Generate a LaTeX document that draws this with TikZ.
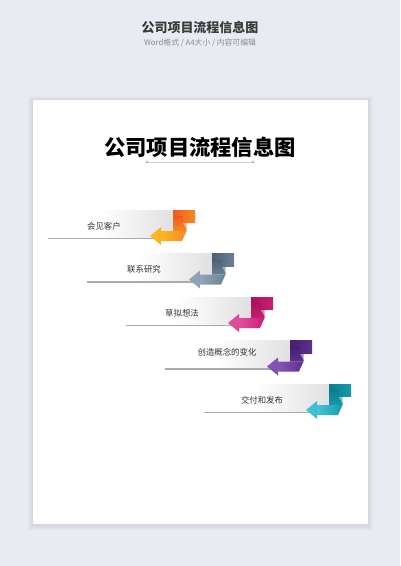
\documentclass[tikz,border=0pt]{standalone}
\usepackage{fontspec}
\newfontfamily\cjk{Noto Sans CJK SC}
\usetikzlibrary{calc}
\definecolor{bg}{HTML}{E8EBF2}
\definecolor{hdr}{HTML}{3A3A3A}
\definecolor{sub}{HTML}{8A8D93}
% row colours: dark / mid / light
\definecolor{oA}{HTML}{EE5A1E}\definecolor{oB}{HTML}{F68B1F}\definecolor{oC}{HTML}{FBB826}
\definecolor{sA}{HTML}{4D6176}\definecolor{sB}{HTML}{6B8095}\definecolor{sC}{HTML}{93A6B8}
\definecolor{mA}{HTML}{A9125B}\definecolor{mB}{HTML}{C81E75}\definecolor{mC}{HTML}{E24E9E}
\definecolor{pA}{HTML}{46206F}\definecolor{pB}{HTML}{5E2E8C}\definecolor{pC}{HTML}{8456B6}
\definecolor{tA}{HTML}{0E7C8E}\definecolor{tB}{HTML}{1699AD}\definecolor{tC}{HTML}{45C3D8}
\pgfdeclarehorizontalshading{boxsh}{100bp}{color(0bp)=(white); color(25bp)=(white); color(45bp)=(white); color(75bp)=(black!13); color(100bp)=(black!13)}
\tikzset{
  hdrtext/.style={font=\cjk\bfseries\fontsize{13}{15}\selectfont, text=hdr, inner sep=0},
  subtext/.style={font=\cjk\fontsize{7.8}{9}\selectfont, text=sub, inner sep=0},
  titletext/.style={font=\cjk\bfseries\fontsize{21.3}{24}\selectfont, text=black, inner sep=0},
  steptext/.style={font=\cjk\fontsize{8.4}{10}\selectfont, text=black!80, inner sep=0},
  baseline/.style={line width=1.3pt, black!33},
}
\begin{document}
\begin{tikzpicture}[x=1pt,y=-1pt]
\useasboundingbox (0,0) rectangle (400,566);
\fill[bg] (0,0) rectangle (400,566);
% page shadow
\foreach \k in {1,...,5}{
  \fill[black, opacity=0.014] (32.5-\k,100-\k+1) rectangle (367.5+\k,524+\k+1);
}
\fill[white] (32.5,100) rectangle (367.5,524);
% header
\node[hdrtext] (hdr) at (200,28) {公司项目流程信息图};
\node[subtext] (sub) at (200,42.5) {Word格式 / A4大小 / 内容可编辑};
% title
\node[titletext] (title) at (200,147) {公司项目流程信息图};
\coordinate (la) at (147,162);
\coordinate (lb) at (253,162);
\draw[black!18, line width=1pt] (la) -- (lb);
\fill[black!25] (la) circle (1.6) (lb) circle (1.6);
% steps
\foreach \i/\cd/\cm/\cl/\txt/\tx/\ty in {
  0/oA/oB/oC/会见客户/104/226,
  1/sA/sB/sC/联系研究/144/269.5,
  2/mA/mB/mC/草拟想法/182/313.5,
  3/pA/pB/pC/创造概念的变化/227/352.5,
  4/tA/tB/tC/交付和发布/262/400.5}{
  \pgfmathsetmacro\xs{173+39*\i}
  \pgfmathsetmacro\yt{210+43.5*\i}
  \pgfmathsetmacro\xo{48+39*\i}
  \shade[shading=boxsh] (\xo,\yt) rectangle (\xs+6,\yt+28.5);
  \coordinate (b\i) at (\xo,\yt+28.5);
  \coordinate (e\i) at (\xs-12,\yt+28.5);
  \draw[baseline] (b\i) -- (e\i);
  \node[steptext] (t\i) at (\tx,\ty) {\txt};
  \begin{scope}[shift={(\xs,\yt)}]
    \shade[left color=\cd, right color=\cm] (0,0) rectangle (22,12.5);
    \shade[top color=\cd, bottom color=\cm] (0,6) -- (9.5,6) -- (9.5,12.5) -- (13.5,19.5) -- (13.5,21) -- (0,21) -- cycle;
    \fill[\cd, opacity=0.5] (9.5,12.5) -- (13.5,12.5) -- (13.5,19.5) -- cycle;
    \shade[left color=\cl, right color=\cm] (-12,21) -- (13.5,21) -- (9,31) -- (-12,31) -- cycle;
    \shade[left color=\cl, right color=\cl!85!\cm] (-12,17) -- (-12,35) -- (-23,26) -- cycle;
  \end{scope}
}
\end{tikzpicture}
\end{document}
